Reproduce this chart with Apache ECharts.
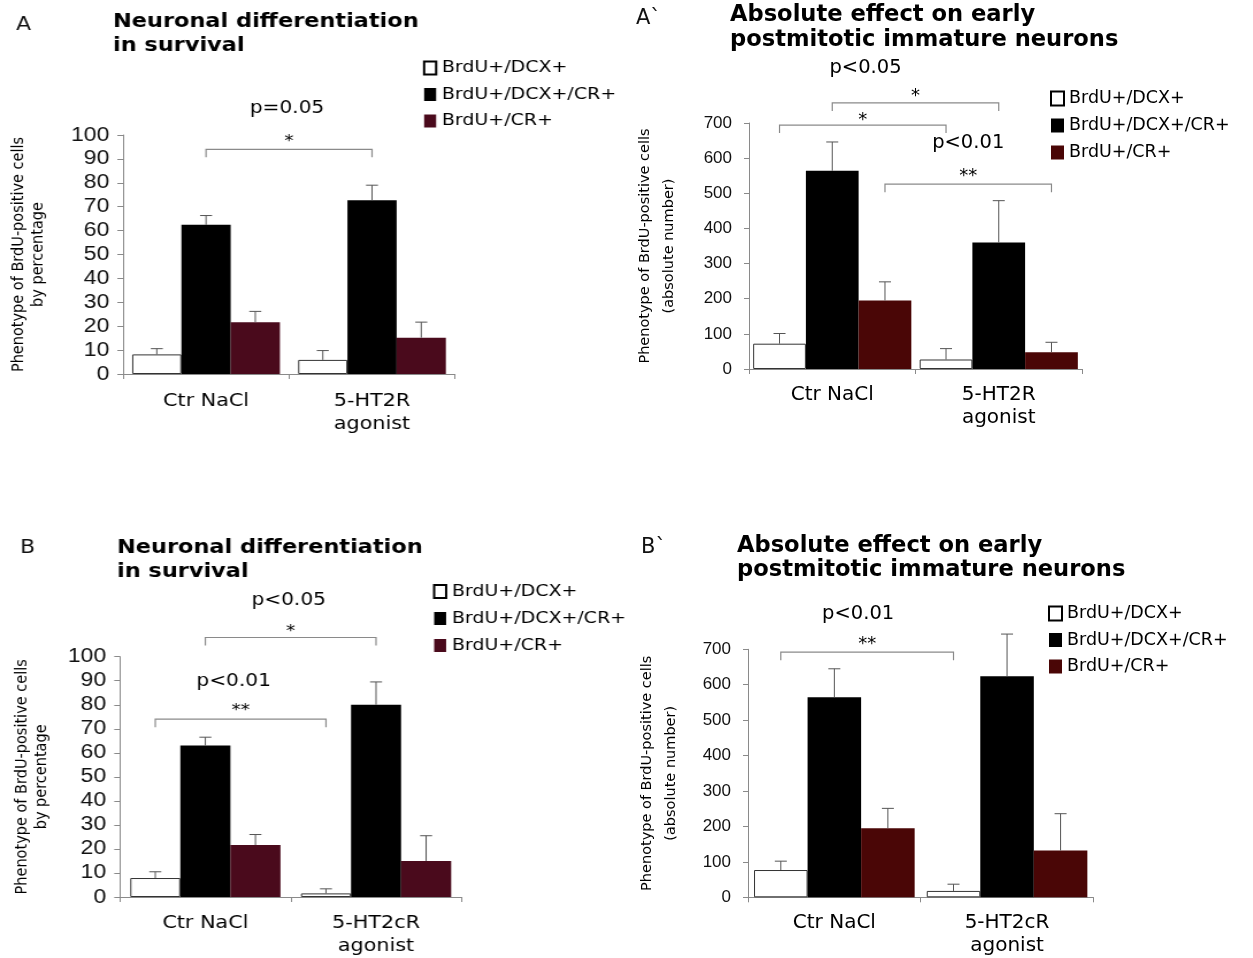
<!DOCTYPE html>
<html><head><meta charset="utf-8">
<script src="https://cdn.jsdelivr.net/npm/echarts@6/dist/echarts.min.js"></script>
<style>
html,body{margin:0;padding:0;background:#fff;width:1253px;height:958px;overflow:hidden;}
#left{position:absolute;left:0;top:0;width:560px;height:958px;transform:scaleX(1.15);transform-origin:0 0;}
#right{position:absolute;left:625px;top:0;width:628px;height:958px;}
</style></head><body>
<div id="left"></div><div id="right"></div>
<script>
// ---------------- DATA ----------------
const seriesNames = ['BrdU+/DCX+', 'BrdU+/DCX+/CR+', 'BrdU+/CR+'];
const categoriesA = ['Ctr NaCl', '5-HT2R\nagonist'];
const categoriesB = ['Ctr NaCl', '5-HT2cR\nagonist'];

// Panel A: percentage
const pctA_dcx = [8.2, 5.9];
const pctA_dcx_err = [2.4, 3.9];
const pctA_dcxcr = [62.4, 72.7];
const pctA_dcxcr_err = [3.9, 6.3];
const pctA_cr = [21.7, 15.2];
const pctA_cr_err = [4.5, 6.5];

// Panel A`: absolute number
const absA_dcx = [72, 27];
const absA_dcx_err = [29, 31];
const absA_dcxcr = [564, 360];
const absA_dcxcr_err = [82, 119];
const absA_cr = [195, 48];
const absA_cr_err = [53, 28];

// Panel B: percentage
const pctB_dcx = [7.9, 1.5];
const pctB_dcx_err = [2.6, 1.9];
const pctB_dcxcr = [63, 80];
const pctB_dcxcr_err = [3.5, 9.5];
const pctB_cr = [21.6, 15];
const pctB_cr_err = [4.4, 10.5];

// Panel B`: absolute number
const absB_dcx = [77, 18];
const absB_dcx_err = [25, 19];
const absB_dcxcr = [565, 624];
const absB_dcxcr_err = [80, 119];
const absB_cr = [195, 132];
const absB_cr_err = [56, 104];

// significance brackets: [category1, series1, category2, series2, bracket value]
const bracketsA = [[0, 1, 1, 1, 94]];
const starsA = ['*'];
const pLabelsA = ['p=0.05'];
const bracketsAp = [[0, 0, 1, 0, 694], [0, 1, 1, 1, 757], [0, 2, 1, 2, 526]];
const starsAp = ['*', '*', '**'];
const pLabelsAp = ['', 'p<0.05', 'p<0.01'];
const bracketsB = [[0, 1, 1, 1, 108], [0, 0, 1, 0, 74]];
const starsB = ['*', '**'];
const pLabelsB = ['p<0.05', 'p<0.01'];
const bracketsBp = [[0, 0, 1, 0, 692]];
const starsBp = ['**'];
const pLabelsBp = ['p<0.01'];

// ---------------- LAYOUT / STYLE ----------------
const panels = {
  A: {
    categories: categoriesA,
    values: [pctA_dcx, pctA_dcxcr, pctA_cr], errors: [pctA_dcx_err, pctA_dcxcr_err, pctA_cr_err],
    brackets: bracketsA, stars: starsA, pLabels: pLabelsA,
    bracketLayout: [{sdy: -7, pdy: -41, pdx: -2}],
    grid: {x0: 118, x1: 455, yTop: 135, yBase: 374}, yMax: 100, yInterval: 10,
    tickFont: 20, tickMargin: 12, catFont: 18, catLine: 23, catMargin: 15.5,
    yName: 'Phenotype of BrdU-positive cells\nby percentage', nameGap: 66, nameLine: 16.5, nameFont: 14.5,
    gapFrac: 0.11, maroon: '#4a0a1c',
    legend: {x: 423, top: 59.5, iw: 12, ih: 13, font: 16.5, gap: 9.5},
    title: {x: 113, cy: 34, font: 19.5, line: 24, text: 'Neuronal differentiation\nin survival'},
    letter: {x: 16, cy: 25, font: 19, text: 'A'},
    pFont: 17.5, starFont: 16, capW: 12
  },
  B: {
    categories: categoriesB,
    values: [pctB_dcx, pctB_dcxcr, pctB_cr], errors: [pctB_dcx_err, pctB_dcxcr_err, pctB_cr_err],
    brackets: bracketsB, stars: starsB, pLabels: pLabelsB,
    bracketLayout: [{sdy: -6, pdy: -37, pdx: -2}, {sdy: -8, pdy: -38, pdx: -7}],
    grid: {x0: 120, x1: 461.4, yTop: 656.7, yBase: 897.7}, yMax: 100, yInterval: 10,
    tickFont: 20, tickMargin: 12, catFont: 18, catLine: 23, catMargin: 15,
    yName: 'Phenotype of BrdU-positive cells\nby percentage', nameGap: 60, nameLine: 16.5, nameFont: 14.5,
    gapFrac: 0.12, maroon: '#4a0a1c',
    legend: {x: 433, top: 583, iw: 12, ih: 13, font: 16.5, gap: 10},
    title: {x: 117, cy: 560, font: 19.5, line: 24, text: 'Neuronal differentiation\nin survival'},
    letter: {x: 20, cy: 548, font: 19, text: 'B'},
    pFont: 17.5, starFont: 16, capW: 12
  },
  Ap: {
    categories: categoriesA,
    values: [absA_dcx, absA_dcxcr, absA_cr], errors: [absA_dcx_err, absA_dcxcr_err, absA_cr_err],
    brackets: bracketsAp, stars: starsAp, pLabels: pLabelsAp,
    bracketLayout: [{sdy: -5, pdy: 0, pdx: 0}, {sdy: -7, pdy: -35, pdx: -50}, {sdy: -8, pdy: -41, pdx: 0}],
    grid: {x0: 740, x1: 1082, yTop: 123, yBase: 369}, yMax: 700, yInterval: 100,
    tickFont: 17, tickMargin: 17, catFont: 20, catLine: 23, catMargin: 14.5,
    yName: 'Phenotype of BrdU-positive cells\n(absolute number)', nameGap: 68, nameLine: 24, nameFont: 14.5,
    gapFrac: 0.05, maroon: '#4a0606',
    legend: {x: 1050, top: 89.5, iw: 13, ih: 14, font: 17.5, gap: 9},
    title: {x: 730, cy: 27.5, font: 22.6, line: 24.5, text: 'Absolute effect on early\npostmitotic immature neurons'},
    letter: {x: 636, cy: 19, font: 21, text: 'A`'},
    pFont: 19.5, starFont: 18, capW: 12
  },
  Bp: {
    categories: categoriesB,
    values: [absB_dcx, absB_dcxcr, absB_cr], errors: [absB_dcx_err, absB_dcxcr_err, absB_cr_err],
    brackets: bracketsBp, stars: starsBp, pLabels: pLabelsBp,
    bracketLayout: [{sdy: -8, pdy: -38, pdx: -9}],
    grid: {x0: 748, x1: 1093.4, yTop: 649.3, yBase: 897.3}, yMax: 700, yInterval: 100,
    tickFont: 17, tickMargin: 17, catFont: 20, catLine: 23, catMargin: 14,
    yName: 'Phenotype of BrdU-positive cells\n(absolute number)', nameGap: 65, nameLine: 24, nameFont: 14.5,
    gapFrac: 0.07, maroon: '#4a0606',
    legend: {x: 1048, top: 604.5, iw: 13, ih: 14, font: 17.5, gap: 8.5},
    title: {x: 737, cy: 558, font: 22.6, line: 24.5, text: 'Absolute effect on early\npostmitotic immature neurons'},
    letter: {x: 641, cy: 548, font: 21, text: 'B`'},
    pFont: 19.5, starFont: 18, capW: 12
  }
};

const AXIS_GREY = '#8a8a8a';
const FONT = 'DejaVu Sans';

function buildOption(list, X, sx) {
  const opt = {animation: false, grid: [], xAxis: [], yAxis: [], series: [], legend: [], graphic: []};
  list.forEach((p, i) => {
    const g = p.grid;
    opt.grid.push({left: X(g.x0), top: g.yTop, width: (g.x1 - g.x0) / sx, height: g.yBase - g.yTop});
    opt.xAxis.push({
      gridIndex: i, type: 'category', data: p.categories,
      axisLine: {lineStyle: {color: AXIS_GREY, width: 1}},
      axisTick: {show: true, length: 5, lineStyle: {color: AXIS_GREY}},
      axisLabel: {interval: 0, fontFamily: FONT, fontSize: p.catFont, lineHeight: p.catLine, color: '#000', margin: p.catMargin}
    });
    opt.yAxis.push({
      gridIndex: i, type: 'value', min: 0, max: p.yMax, interval: p.yInterval,
      splitLine: {show: false},
      axisLine: {show: true, lineStyle: {color: AXIS_GREY}},
      axisTick: {show: true, length: 5, lineStyle: {color: AXIS_GREY}},
      axisLabel: {fontFamily: 'Liberation Sans', fontSize: p.tickFont, color: '#111', margin: p.tickMargin},
      name: p.yName, nameLocation: 'middle', nameRotate: 90, nameGap: p.nameGap,
      nameTextStyle: {fontFamily: FONT, fontSize: p.nameFont, lineHeight: p.nameLine, color: '#000'}
    });
    const colors = ['#ffffff', '#000000', p.maroon];
    p.values.forEach((vals, s) => {
      opt.series.push({
        type: 'bar', name: seriesNames[s], xAxisIndex: i, yAxisIndex: i, data: vals,
        barGap: '0%', barCategoryGap: (p.gapFrac * 100) + '%', silent: true,
        itemStyle: s === 0 ? {color: '#ffffff', borderColor: '#333', borderWidth: 1} : {color: colors[s]}
      });
    });
    // error bars
    const errData = [];
    p.values.forEach((vals, s) => vals.forEach((v, c) => errData.push([c, s, v, v + p.errors[s][c]])));
    opt.series.push({
      type: 'custom', xAxisIndex: i, yAxisIndex: i, silent: true, data: errData, encode: {x: 0, y: 3}, z: 5,
      renderItem: function (params, api) {
        const band = api.size([1, 0])[0];
        const bw = band * (1 - p.gapFrac) / 3;
        const c = api.value(0), s = api.value(1);
        const p0 = api.coord([c, api.value(2)]);
        const p1 = api.coord([c, api.value(3)]);
        const x = p0[0] + (s - 1) * bw;
        const hw = p.capW / 2 / sx;
        return {type: 'group', children: [
          {type: 'line', shape: {x1: x, y1: p0[1], x2: x, y2: p1[1]}, style: {stroke: '#555', lineWidth: 1}},
          {type: 'line', shape: {x1: x - hw, y1: p1[1], x2: x + hw, y2: p1[1]}, style: {stroke: '#555', lineWidth: 1}}
        ]};
      }
    });
    // significance brackets
    opt.series.push({
      type: 'custom', xAxisIndex: i, yAxisIndex: i, silent: true, data: p.brackets, encode: {x: 0, y: 4}, z: 6, clip: false,
      renderItem: function (params, api) {
        const k = params.dataIndex;
        const lay = p.bracketLayout[k];
        const band = api.size([1, 0])[0];
        const bw = band * (1 - p.gapFrac) / 3;
        const yPix = api.coord([0, api.value(4)])[1];
        const xa = api.coord([api.value(0), 0])[0] + (api.value(1) - 1) * bw;
        const xb = api.coord([api.value(2), 0])[0] + (api.value(3) - 1) * bw;
        const cx = (xa + xb) / 2;
        const children = [
          {type: 'polyline', shape: {points: [[xa, yPix + 8], [xa, yPix], [xb, yPix], [xb, yPix + 8]]},
           style: {stroke: AXIS_GREY, lineWidth: 1.2, fill: null}},
          {type: 'text', x: cx, y: yPix + lay.sdy,
           style: {text: p.stars[k], fontFamily: FONT, fontSize: p.starFont, fill: '#000', align: 'center', verticalAlign: 'middle'}}
        ];
        if (p.pLabels[k]) {
          children.push({type: 'text', x: cx + lay.pdx / sx, y: yPix + lay.pdy,
            style: {text: p.pLabels[k], fontFamily: FONT, fontSize: p.pFont, fill: '#000', align: 'center', verticalAlign: 'middle'}});
        }
        return {type: 'group', children: children};
      }
    });
    const L = p.legend;
    opt.legend.push({
      data: seriesNames.map((n, s) => s === 0 ? {name: n, itemStyle: {color: '#fff', borderColor: '#000', borderWidth: 2}} : {name: n}),
      orient: 'vertical', left: X(L.x), top: L.top, padding: 0, itemWidth: L.iw / sx, itemHeight: L.ih, itemGap: L.gap,
      icon: 'rect', selectedMode: false,
      textStyle: {fontFamily: FONT, fontSize: L.font, lineHeight: L.font, color: '#000'}
    });
    opt.graphic.push({type: 'text', x: X(p.title.x), y: p.title.cy, silent: true,
      style: {text: p.title.text, fontFamily: FONT, fontWeight: 'bold', fontSize: p.title.font, lineHeight: p.title.line,
              fill: '#000', align: 'left', verticalAlign: 'middle'}});
    opt.graphic.push({type: 'text', x: X(p.letter.x), y: p.letter.cy, silent: true,
      style: {text: p.letter.text, fontFamily: FONT, fontSize: p.letter.font, fill: '#111', align: 'left', verticalAlign: 'middle'}});
  });
  return opt;
}

const SX = 1.15;
const leftChart = echarts.init(document.getElementById('left'), null, {renderer: 'canvas'});
leftChart.setOption(buildOption([panels.A, panels.B], x => x / SX, SX));
const rightChart = echarts.init(document.getElementById('right'), null, {renderer: 'canvas'});
rightChart.setOption(buildOption([panels.Ap, panels.Bp], x => x - 625, 1));
</script>
</body></html>
